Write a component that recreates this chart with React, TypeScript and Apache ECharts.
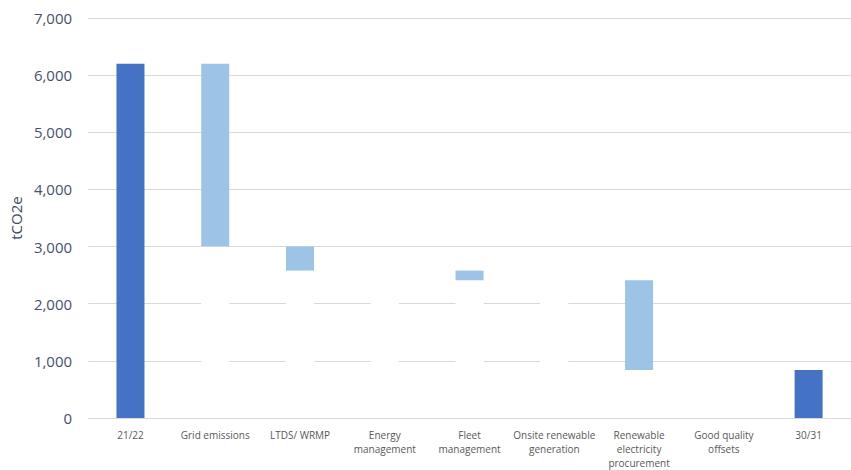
import React, { useEffect, useRef } from "react";
import * as echarts from "echarts";

const categories = [
  "21/22",
  "Grid emissions",
  "LTDS/ WRMP",
  "Energy\nmanagement",
  "Fleet\nmanagement",
  "Onsite renewable\ngeneration",
  "Renewable\nelectricity\nprocurement",
  "Good quality\noffsets",
  "30/31",
];
// totals (only first and last columns)
const totals = [6200, null, null, null, null, null, null, null, 840];
// reductions for each intermediate step
const reductions = [null, 3200, 420, 0, 170, 0, 1570, 0, null];
const yTicks = { min: 0, max: 7000, interval: 1000 };

export default function App() {
  const ref = useRef<HTMLDivElement>(null);
  useEffect(() => {
    if (!ref.current) return;
    const chart = echarts.init(ref.current, undefined, { renderer: "svg" });
    const base: number[] = [];
    let running = 0;
    categories.forEach((_, i) => {
      const t = totals[i];
      const r = reductions[i];
      if (t != null) {
        base.push(0);
        running = t;
      } else {
        running = running - (r || 0);
        base.push(running);
      }
    });
    const totalData = totals.map((t) => (t == null ? "-" : t));
    const redData = reductions.map((r) => (r == null ? "-" : r));
    chart.setOption({
      animation: false,
      grid: { left: 87, top: 18, width: 775, height: 403.5 },
      xAxis: {
        type: "category",
        data: categories,
        axisLine: { lineStyle: { color: "#d9d9d9", width: 1 } },
        axisTick: { show: false },
        axisLabel: {
          color: "#595959",
          fontSize: 10,
          fontFamily: "Open Sans",
          lineHeight: 14,
          margin: 10,
          interval: 0,
        },
      },
      yAxis: {
        type: "value",
        min: yTicks.min,
        max: yTicks.max,
        interval: yTicks.interval,
        name: "tCO2e",
        nameLocation: "middle",
        nameGap: 62,
        nameRotate: 90,
        nameTextStyle: { color: "#3b4766", fontSize: 15, fontFamily: "Open Sans" },
        axisLine: { show: false },
        axisTick: { show: false },
        splitLine: { lineStyle: { color: "#d9d9d9", width: 1 } },
        axisLabel: {
          color: "#48506e",
          fontSize: 15,
          fontFamily: "Open Sans",
          margin: 16,
          formatter: (v: number) => v.toLocaleString("en-US"),
        },
      },
      series: [
        {
          name: "base",
          type: "bar",
          stack: "w",
          barWidth: 28,
          data: base,
          itemStyle: { color: "#ffffff" },
          silent: true,
        },
        {
          name: "total",
          type: "bar",
          stack: "w",
          barWidth: 28,
          data: totalData,
          itemStyle: { color: "#4472c4" },
        },
        {
          name: "reduction",
          type: "bar",
          stack: "w",
          barWidth: 28,
          data: redData,
          itemStyle: { color: "#9dc3e6" },
        },
      ],
    });
    return () => chart.dispose();
  }, []);
  return (
    <div
      ref={ref}
      style={{ position: "fixed", left: 0, top: 0, width: 851, height: 470, background: "#fff" }}
    />
  );
}
